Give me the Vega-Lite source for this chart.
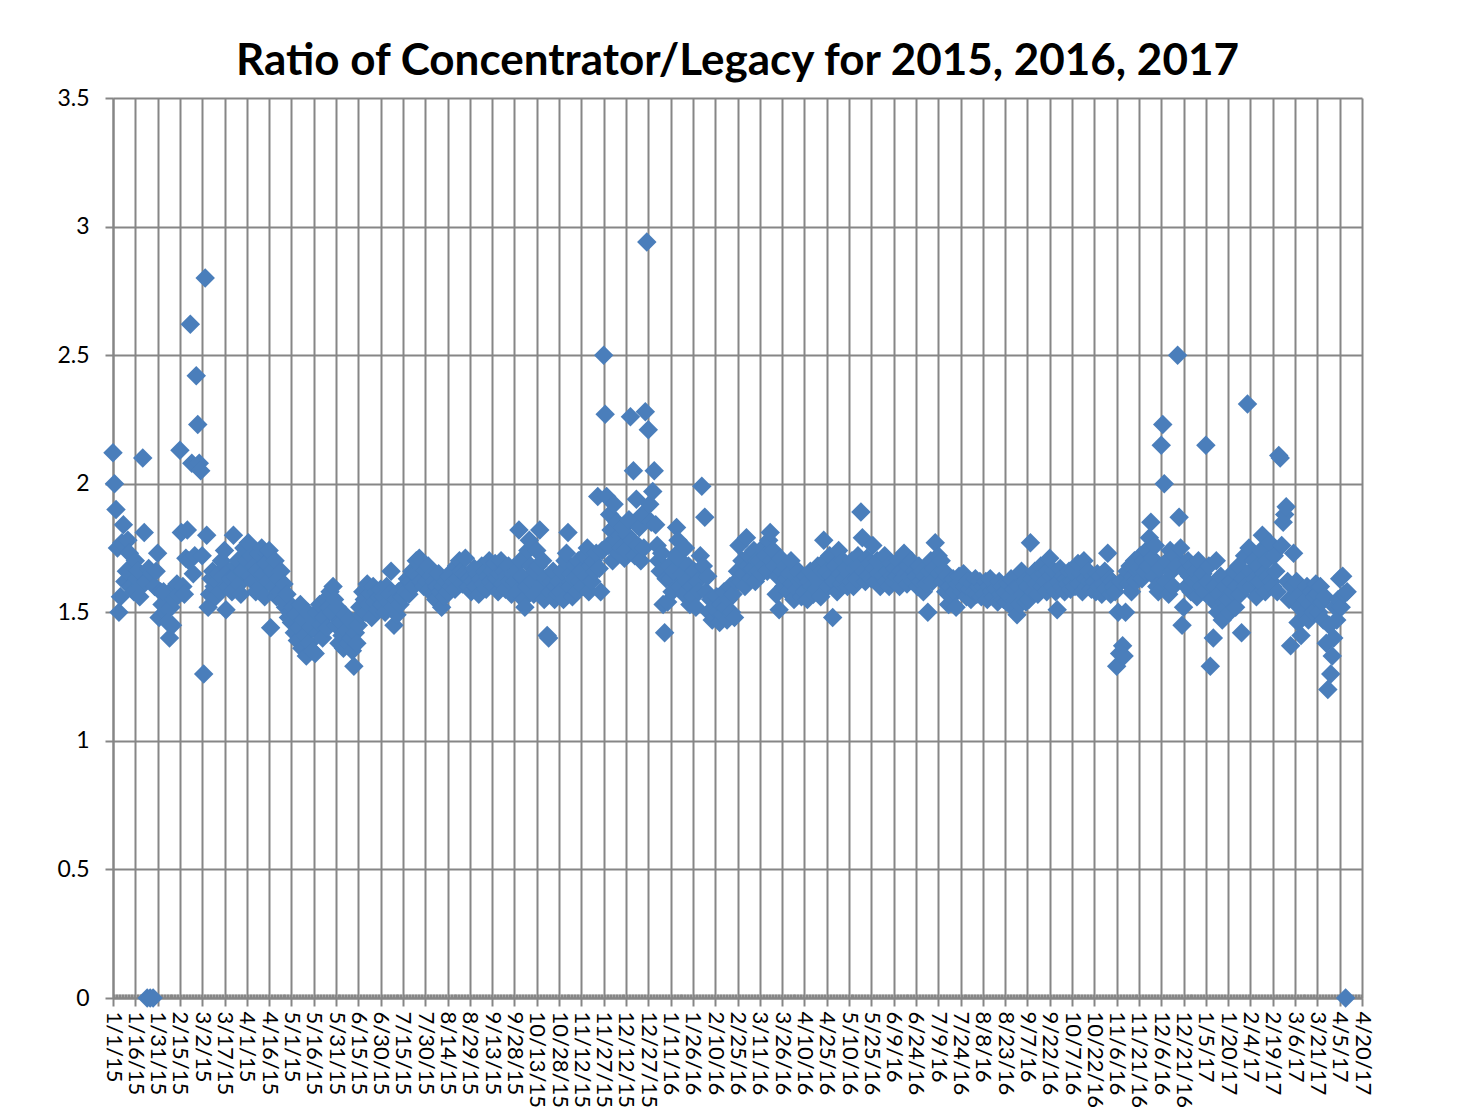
{
"$schema": "https://vega.github.io/schema/vega-lite/v6.json",
"width": 1249, "height": 900,
"autosize": {"type": "none"},
"padding": {"left": 113, "top": 98, "right": 107, "bottom": 119},
"background": "white",
"config": {"view": {"stroke": null}},
"title": {"text": "Ratio of Concentrator/Legacy for 2015, 2016, 2017", "font": "Lato", "fontSize": 44, "fontWeight": "bold", "color": "#000000", "anchor": "middle", "offset": 3},
"data": {"values": [
{"date":"2015-01-01","ratio":2.12},{"date":"2015-01-02","ratio":2.00},{"date":"2015-01-03","ratio":1.90},{"date":"2015-01-04","ratio":1.75},{"date":"2015-01-05","ratio":1.50},{"date":"2015-01-06","ratio":1.56},{"date":"2015-01-07","ratio":1.77},{"date":"2015-01-08","ratio":1.84},{"date":"2015-01-09","ratio":1.62},{"date":"2015-01-10","ratio":1.66},{"date":"2015-01-11","ratio":1.78},{"date":"2015-01-12","ratio":1.73},{"date":"2015-01-13","ratio":1.60},{"date":"2015-01-14","ratio":1.68},{"date":"2015-01-15","ratio":1.58},{"date":"2015-01-16","ratio":1.70},{"date":"2015-01-17","ratio":1.63},{"date":"2015-01-18","ratio":1.66},{"date":"2015-01-19","ratio":1.56},{"date":"2015-01-20","ratio":1.60},{"date":"2015-01-21","ratio":2.10},{"date":"2015-01-22","ratio":1.81},{"date":"2015-01-23","ratio":1.62},{"date":"2015-01-24","ratio":0},{"date":"2015-01-25","ratio":1.67},{"date":"2015-01-26","ratio":0},{"date":"2015-01-27","ratio":1.65},{"date":"2015-01-28","ratio":0},{"date":"2015-01-29","ratio":1.60},{"date":"2015-01-30","ratio":1.66},{"date":"2015-01-31","ratio":1.73},
{"date":"2015-02-01","ratio":1.48},{"date":"2015-02-02","ratio":1.58},{"date":"2015-02-03","ratio":1.53},{"date":"2015-02-04","ratio":1.58},{"date":"2015-02-05","ratio":1.50},{"date":"2015-02-06","ratio":1.52},{"date":"2015-02-07","ratio":1.46},{"date":"2015-02-08","ratio":1.40},{"date":"2015-02-09","ratio":1.52},{"date":"2015-02-10","ratio":1.45},{"date":"2015-02-11","ratio":1.55},{"date":"2015-02-12","ratio":1.60},{"date":"2015-02-13","ratio":1.61},{"date":"2015-02-14","ratio":1.57},{"date":"2015-02-15","ratio":2.13},{"date":"2015-02-16","ratio":1.81},{"date":"2015-02-17","ratio":1.60},{"date":"2015-02-18","ratio":1.57},{"date":"2015-02-19","ratio":1.71},{"date":"2015-02-20","ratio":1.82},{"date":"2015-02-21","ratio":1.70},{"date":"2015-02-22","ratio":2.62},{"date":"2015-02-23","ratio":2.08},{"date":"2015-02-24","ratio":1.65},{"date":"2015-02-25","ratio":1.72},{"date":"2015-02-26","ratio":2.42},{"date":"2015-02-27","ratio":2.23},{"date":"2015-02-28","ratio":2.08},
{"date":"2015-03-01","ratio":2.05},{"date":"2015-03-02","ratio":1.72},{"date":"2015-03-03","ratio":1.26},{"date":"2015-03-04","ratio":2.80},{"date":"2015-03-05","ratio":1.80},{"date":"2015-03-06","ratio":1.52},{"date":"2015-03-07","ratio":1.57},{"date":"2015-03-08","ratio":1.63},{"date":"2015-03-09","ratio":1.66},{"date":"2015-03-10","ratio":1.60},{"date":"2015-03-11","ratio":1.56},{"date":"2015-03-12","ratio":1.62},{"date":"2015-03-13","ratio":1.65},{"date":"2015-03-14","ratio":1.58},{"date":"2015-03-15","ratio":1.70},{"date":"2015-03-16","ratio":1.64},{"date":"2015-03-17","ratio":1.74},{"date":"2015-03-18","ratio":1.51},{"date":"2015-03-19","ratio":1.60},{"date":"2015-03-20","ratio":1.66},{"date":"2015-03-21","ratio":1.63},{"date":"2015-03-22","ratio":1.58},{"date":"2015-03-23","ratio":1.80},{"date":"2015-03-24","ratio":1.64},{"date":"2015-03-25","ratio":1.68},{"date":"2015-03-26","ratio":1.70},{"date":"2015-03-27","ratio":1.61},{"date":"2015-03-28","ratio":1.57},{"date":"2015-03-29","ratio":1.66},{"date":"2015-03-30","ratio":1.75},{"date":"2015-03-31","ratio":1.72},
{"date":"2015-04-01","ratio":1.70},{"date":"2015-04-02","ratio":1.77},{"date":"2015-04-03","ratio":1.64},{"date":"2015-04-04","ratio":1.72},{"date":"2015-04-05","ratio":1.62},{"date":"2015-04-06","ratio":1.68},{"date":"2015-04-07","ratio":1.58},{"date":"2015-04-08","ratio":1.66},{"date":"2015-04-09","ratio":1.73},{"date":"2015-04-10","ratio":1.60},{"date":"2015-04-11","ratio":1.75},{"date":"2015-04-12","ratio":1.65},{"date":"2015-04-13","ratio":1.56},{"date":"2015-04-14","ratio":1.69},{"date":"2015-04-15","ratio":1.62},{"date":"2015-04-16","ratio":1.74},{"date":"2015-04-17","ratio":1.44},{"date":"2015-04-18","ratio":1.66},{"date":"2015-04-19","ratio":1.60},{"date":"2015-04-20","ratio":1.70},{"date":"2015-04-21","ratio":1.56},{"date":"2015-04-22","ratio":1.63},{"date":"2015-04-23","ratio":1.58},{"date":"2015-04-24","ratio":1.66},{"date":"2015-04-25","ratio":1.55},{"date":"2015-04-26","ratio":1.61},{"date":"2015-04-27","ratio":1.52},{"date":"2015-04-28","ratio":1.57},{"date":"2015-04-29","ratio":1.48},{"date":"2015-04-30","ratio":1.50},
{"date":"2015-05-01","ratio":1.46},{"date":"2015-05-02","ratio":1.52},{"date":"2015-05-03","ratio":1.42},{"date":"2015-05-04","ratio":1.49},{"date":"2015-05-05","ratio":1.39},{"date":"2015-05-06","ratio":1.44},{"date":"2015-05-07","ratio":1.53},{"date":"2015-05-08","ratio":1.36},{"date":"2015-05-09","ratio":1.47},{"date":"2015-05-10","ratio":1.41},{"date":"2015-05-11","ratio":1.33},{"date":"2015-05-12","ratio":1.50},{"date":"2015-05-13","ratio":1.38},{"date":"2015-05-14","ratio":1.44},{"date":"2015-05-15","ratio":1.35},{"date":"2015-05-16","ratio":1.47},{"date":"2015-05-17","ratio":1.34},{"date":"2015-05-18","ratio":1.50},{"date":"2015-05-19","ratio":1.42},{"date":"2015-05-20","ratio":1.53},{"date":"2015-05-21","ratio":1.45},{"date":"2015-05-22","ratio":1.40},{"date":"2015-05-23","ratio":1.48},{"date":"2015-05-24","ratio":1.55},{"date":"2015-05-25","ratio":1.44},{"date":"2015-05-26","ratio":1.52},{"date":"2015-05-27","ratio":1.58},{"date":"2015-05-28","ratio":1.50},{"date":"2015-05-29","ratio":1.60},{"date":"2015-05-30","ratio":1.55},{"date":"2015-05-31","ratio":1.45},
{"date":"2015-06-01","ratio":1.52},{"date":"2015-06-02","ratio":1.38},{"date":"2015-06-03","ratio":1.46},{"date":"2015-06-04","ratio":1.41},{"date":"2015-06-05","ratio":1.36},{"date":"2015-06-06","ratio":1.49},{"date":"2015-06-07","ratio":1.43},{"date":"2015-06-08","ratio":1.38},{"date":"2015-06-09","ratio":1.47},{"date":"2015-06-10","ratio":1.40},{"date":"2015-06-11","ratio":1.35},{"date":"2015-06-12","ratio":1.29},{"date":"2015-06-13","ratio":1.42},{"date":"2015-06-14","ratio":1.38},{"date":"2015-06-15","ratio":1.45},{"date":"2015-06-16","ratio":1.52},{"date":"2015-06-17","ratio":1.49},{"date":"2015-06-18","ratio":1.58},{"date":"2015-06-19","ratio":1.55},{"date":"2015-06-20","ratio":1.50},{"date":"2015-06-21","ratio":1.61},{"date":"2015-06-22","ratio":1.53},{"date":"2015-06-23","ratio":1.57},{"date":"2015-06-24","ratio":1.48},{"date":"2015-06-25","ratio":1.60},{"date":"2015-06-26","ratio":1.54},{"date":"2015-06-27","ratio":1.58},{"date":"2015-06-28","ratio":1.51},{"date":"2015-06-29","ratio":1.56},{"date":"2015-06-30","ratio":1.59},
{"date":"2015-07-01","ratio":1.53},{"date":"2015-07-02","ratio":1.56},{"date":"2015-07-03","ratio":1.50},{"date":"2015-07-04","ratio":1.60},{"date":"2015-07-05","ratio":1.54},{"date":"2015-07-06","ratio":1.57},{"date":"2015-07-07","ratio":1.66},{"date":"2015-07-08","ratio":1.52},{"date":"2015-07-09","ratio":1.45},{"date":"2015-07-10","ratio":1.55},{"date":"2015-07-11","ratio":1.49},{"date":"2015-07-12","ratio":1.58},{"date":"2015-07-13","ratio":1.53},{"date":"2015-07-14","ratio":1.56},{"date":"2015-07-15","ratio":1.56},{"date":"2015-07-16","ratio":1.60},{"date":"2015-07-17","ratio":1.58},{"date":"2015-07-18","ratio":1.63},{"date":"2015-07-19","ratio":1.57},{"date":"2015-07-20","ratio":1.62},{"date":"2015-07-21","ratio":1.66},{"date":"2015-07-22","ratio":1.60},{"date":"2015-07-23","ratio":1.65},{"date":"2015-07-24","ratio":1.70},{"date":"2015-07-25","ratio":1.64},{"date":"2015-07-26","ratio":1.71},{"date":"2015-07-27","ratio":1.62},{"date":"2015-07-28","ratio":1.67},{"date":"2015-07-29","ratio":1.60},{"date":"2015-07-30","ratio":1.66},{"date":"2015-07-31","ratio":1.62},
{"date":"2015-08-01","ratio":1.68},{"date":"2015-08-02","ratio":1.59},{"date":"2015-08-03","ratio":1.64},{"date":"2015-08-04","ratio":1.57},{"date":"2015-08-05","ratio":1.62},{"date":"2015-08-06","ratio":1.55},{"date":"2015-08-07","ratio":1.60},{"date":"2015-08-08","ratio":1.65},{"date":"2015-08-09","ratio":1.58},{"date":"2015-08-10","ratio":1.52},{"date":"2015-08-11","ratio":1.60},{"date":"2015-08-12","ratio":1.56},{"date":"2015-08-13","ratio":1.62},{"date":"2015-08-14","ratio":1.58},{"date":"2015-08-15","ratio":1.64},{"date":"2015-08-16","ratio":1.60},{"date":"2015-08-17","ratio":1.66},{"date":"2015-08-18","ratio":1.62},{"date":"2015-08-19","ratio":1.59},{"date":"2015-08-20","ratio":1.68},{"date":"2015-08-21","ratio":1.63},{"date":"2015-08-22","ratio":1.70},{"date":"2015-08-23","ratio":1.66},{"date":"2015-08-24","ratio":1.61},{"date":"2015-08-25","ratio":1.65},{"date":"2015-08-26","ratio":1.71},{"date":"2015-08-27","ratio":1.64},{"date":"2015-08-28","ratio":1.60},{"date":"2015-08-29","ratio":1.63},{"date":"2015-08-30","ratio":1.58},{"date":"2015-08-31","ratio":1.62},
{"date":"2015-09-01","ratio":1.67},{"date":"2015-09-02","ratio":1.60},{"date":"2015-09-03","ratio":1.65},{"date":"2015-09-04","ratio":1.57},{"date":"2015-09-05","ratio":1.63},{"date":"2015-09-06","ratio":1.68},{"date":"2015-09-07","ratio":1.61},{"date":"2015-09-08","ratio":1.66},{"date":"2015-09-09","ratio":1.59},{"date":"2015-09-10","ratio":1.64},{"date":"2015-09-11","ratio":1.70},{"date":"2015-09-12","ratio":1.62},{"date":"2015-09-13","ratio":1.66},{"date":"2015-09-14","ratio":1.60},{"date":"2015-09-15","ratio":1.69},{"date":"2015-09-16","ratio":1.63},{"date":"2015-09-17","ratio":1.58},{"date":"2015-09-18","ratio":1.65},{"date":"2015-09-19","ratio":1.70},{"date":"2015-09-20","ratio":1.61},{"date":"2015-09-21","ratio":1.66},{"date":"2015-09-22","ratio":1.59},{"date":"2015-09-23","ratio":1.64},{"date":"2015-09-24","ratio":1.68},{"date":"2015-09-25","ratio":1.62},{"date":"2015-09-26","ratio":1.57},{"date":"2015-09-27","ratio":1.65},{"date":"2015-09-28","ratio":1.62},{"date":"2015-09-29","ratio":1.66},{"date":"2015-09-30","ratio":1.58},
{"date":"2015-10-01","ratio":1.82},{"date":"2015-10-02","ratio":1.70},{"date":"2015-10-03","ratio":1.64},{"date":"2015-10-04","ratio":1.55},{"date":"2015-10-05","ratio":1.52},{"date":"2015-10-06","ratio":1.60},{"date":"2015-10-07","ratio":1.74},{"date":"2015-10-08","ratio":1.78},{"date":"2015-10-09","ratio":1.68},{"date":"2015-10-10","ratio":1.62},{"date":"2015-10-11","ratio":1.57},{"date":"2015-10-12","ratio":1.66},{"date":"2015-10-13","ratio":1.74},{"date":"2015-10-14","ratio":1.68},{"date":"2015-10-15","ratio":1.82},{"date":"2015-10-16","ratio":1.60},{"date":"2015-10-17","ratio":1.70},{"date":"2015-10-18","ratio":1.55},{"date":"2015-10-19","ratio":1.63},{"date":"2015-10-20","ratio":1.41},{"date":"2015-10-21","ratio":1.40},{"date":"2015-10-22","ratio":1.58},{"date":"2015-10-23","ratio":1.62},{"date":"2015-10-24","ratio":1.66},{"date":"2015-10-25","ratio":1.55},{"date":"2015-10-26","ratio":1.60},{"date":"2015-10-27","ratio":1.57},{"date":"2015-10-28","ratio":1.62},{"date":"2015-10-29","ratio":1.58},{"date":"2015-10-30","ratio":1.66},{"date":"2015-10-31","ratio":1.55},
{"date":"2015-11-01","ratio":1.70},{"date":"2015-11-02","ratio":1.73},{"date":"2015-11-03","ratio":1.81},{"date":"2015-11-04","ratio":1.60},{"date":"2015-11-05","ratio":1.65},{"date":"2015-11-06","ratio":1.56},{"date":"2015-11-07","ratio":1.63},{"date":"2015-11-08","ratio":1.68},{"date":"2015-11-09","ratio":1.58},{"date":"2015-11-10","ratio":1.70},{"date":"2015-11-11","ratio":1.62},{"date":"2015-11-12","ratio":1.66},{"date":"2015-11-13","ratio":1.60},{"date":"2015-11-14","ratio":1.72},{"date":"2015-11-15","ratio":1.64},{"date":"2015-11-16","ratio":1.75},{"date":"2015-11-17","ratio":1.58},{"date":"2015-11-18","ratio":1.68},{"date":"2015-11-19","ratio":1.62},{"date":"2015-11-20","ratio":1.70},{"date":"2015-11-21","ratio":1.66},{"date":"2015-11-22","ratio":1.73},{"date":"2015-11-23","ratio":1.95},{"date":"2015-11-24","ratio":1.67},{"date":"2015-11-25","ratio":1.58},{"date":"2015-11-26","ratio":1.74},{"date":"2015-11-27","ratio":2.50},{"date":"2015-11-28","ratio":2.27},{"date":"2015-11-29","ratio":1.95},{"date":"2015-11-30","ratio":1.76},
{"date":"2015-12-01","ratio":1.88},{"date":"2015-12-02","ratio":1.82},{"date":"2015-12-03","ratio":1.70},{"date":"2015-12-04","ratio":1.92},{"date":"2015-12-05","ratio":1.78},{"date":"2015-12-06","ratio":1.85},{"date":"2015-12-07","ratio":1.73},{"date":"2015-12-08","ratio":1.80},{"date":"2015-12-09","ratio":1.75},{"date":"2015-12-10","ratio":1.83},{"date":"2015-12-11","ratio":1.71},{"date":"2015-12-12","ratio":1.74},{"date":"2015-12-13","ratio":1.80},{"date":"2015-12-14","ratio":1.86},{"date":"2015-12-15","ratio":2.26},{"date":"2015-12-16","ratio":1.78},{"date":"2015-12-17","ratio":2.05},{"date":"2015-12-18","ratio":1.72},{"date":"2015-12-19","ratio":1.94},{"date":"2015-12-20","ratio":1.76},{"date":"2015-12-21","ratio":1.83},{"date":"2015-12-22","ratio":1.70},{"date":"2015-12-23","ratio":1.88},{"date":"2015-12-24","ratio":1.75},{"date":"2015-12-25","ratio":2.28},{"date":"2015-12-26","ratio":2.94},{"date":"2015-12-27","ratio":2.21},{"date":"2015-12-28","ratio":1.92},{"date":"2015-12-29","ratio":1.85},{"date":"2015-12-30","ratio":1.97},{"date":"2015-12-31","ratio":2.05},
{"date":"2016-01-01","ratio":1.84},{"date":"2016-01-02","ratio":1.76},{"date":"2016-01-03","ratio":1.70},{"date":"2016-01-04","ratio":1.66},{"date":"2016-01-05","ratio":1.73},{"date":"2016-01-06","ratio":1.53},{"date":"2016-01-07","ratio":1.42},{"date":"2016-01-08","ratio":1.63},{"date":"2016-01-09","ratio":1.54},{"date":"2016-01-10","ratio":1.68},{"date":"2016-01-11","ratio":1.63},{"date":"2016-01-12","ratio":1.58},{"date":"2016-01-13","ratio":1.66},{"date":"2016-01-14","ratio":1.72},{"date":"2016-01-15","ratio":1.83},{"date":"2016-01-16","ratio":1.78},{"date":"2016-01-17","ratio":1.60},{"date":"2016-01-18","ratio":1.70},{"date":"2016-01-19","ratio":1.65},{"date":"2016-01-20","ratio":1.57},{"date":"2016-01-21","ratio":1.75},{"date":"2016-01-22","ratio":1.62},{"date":"2016-01-23","ratio":1.68},{"date":"2016-01-24","ratio":1.53},{"date":"2016-01-25","ratio":1.60},{"date":"2016-01-26","ratio":1.56},{"date":"2016-01-27","ratio":1.66},{"date":"2016-01-28","ratio":1.52},{"date":"2016-01-29","ratio":1.62},{"date":"2016-01-30","ratio":1.58},{"date":"2016-01-31","ratio":1.72},
{"date":"2016-02-01","ratio":1.99},{"date":"2016-02-02","ratio":1.68},{"date":"2016-02-03","ratio":1.87},{"date":"2016-02-04","ratio":1.58},{"date":"2016-02-05","ratio":1.64},{"date":"2016-02-06","ratio":1.50},{"date":"2016-02-07","ratio":1.55},{"date":"2016-02-08","ratio":1.47},{"date":"2016-02-09","ratio":1.52},{"date":"2016-02-10","ratio":1.48},{"date":"2016-02-11","ratio":1.56},{"date":"2016-02-12","ratio":1.50},{"date":"2016-02-13","ratio":1.46},{"date":"2016-02-14","ratio":1.53},{"date":"2016-02-15","ratio":1.49},{"date":"2016-02-16","ratio":1.58},{"date":"2016-02-17","ratio":1.52},{"date":"2016-02-18","ratio":1.47},{"date":"2016-02-19","ratio":1.55},{"date":"2016-02-20","ratio":1.60},{"date":"2016-02-21","ratio":1.50},{"date":"2016-02-22","ratio":1.57},{"date":"2016-02-23","ratio":1.48},{"date":"2016-02-24","ratio":1.62},{"date":"2016-02-25","ratio":1.66},{"date":"2016-02-26","ratio":1.76},{"date":"2016-02-27","ratio":1.62},{"date":"2016-02-28","ratio":1.70},{"date":"2016-02-29","ratio":1.65},
{"date":"2016-03-01","ratio":1.60},{"date":"2016-03-02","ratio":1.79},{"date":"2016-03-03","ratio":1.68},{"date":"2016-03-04","ratio":1.72},{"date":"2016-03-05","ratio":1.63},{"date":"2016-03-06","ratio":1.67},{"date":"2016-03-07","ratio":1.74},{"date":"2016-03-08","ratio":1.62},{"date":"2016-03-09","ratio":1.70},{"date":"2016-03-10","ratio":1.66},{"date":"2016-03-11","ratio":1.70},{"date":"2016-03-12","ratio":1.65},{"date":"2016-03-13","ratio":1.75},{"date":"2016-03-14","ratio":1.68},{"date":"2016-03-15","ratio":1.72},{"date":"2016-03-16","ratio":1.66},{"date":"2016-03-17","ratio":1.78},{"date":"2016-03-18","ratio":1.81},{"date":"2016-03-19","ratio":1.70},{"date":"2016-03-20","ratio":1.74},{"date":"2016-03-21","ratio":1.68},{"date":"2016-03-22","ratio":1.57},{"date":"2016-03-23","ratio":1.64},{"date":"2016-03-24","ratio":1.51},{"date":"2016-03-25","ratio":1.71},{"date":"2016-03-26","ratio":1.66},{"date":"2016-03-27","ratio":1.60},{"date":"2016-03-28","ratio":1.68},{"date":"2016-03-29","ratio":1.63},{"date":"2016-03-30","ratio":1.58},{"date":"2016-03-31","ratio":1.65},
{"date":"2016-04-01","ratio":1.70},{"date":"2016-04-02","ratio":1.61},{"date":"2016-04-03","ratio":1.55},{"date":"2016-04-04","ratio":1.64},{"date":"2016-04-05","ratio":1.59},{"date":"2016-04-06","ratio":1.66},{"date":"2016-04-07","ratio":1.62},{"date":"2016-04-08","ratio":1.56},{"date":"2016-04-09","ratio":1.63},{"date":"2016-04-10","ratio":1.58},{"date":"2016-04-11","ratio":1.64},{"date":"2016-04-12","ratio":1.55},{"date":"2016-04-13","ratio":1.62},{"date":"2016-04-14","ratio":1.66},{"date":"2016-04-15","ratio":1.60},{"date":"2016-04-16","ratio":1.57},{"date":"2016-04-17","ratio":1.64},{"date":"2016-04-18","ratio":1.59},{"date":"2016-04-19","ratio":1.68},{"date":"2016-04-20","ratio":1.62},{"date":"2016-04-21","ratio":1.56},{"date":"2016-04-22","ratio":1.66},{"date":"2016-04-23","ratio":1.78},{"date":"2016-04-24","ratio":1.70},{"date":"2016-04-25","ratio":1.66},{"date":"2016-04-26","ratio":1.60},{"date":"2016-04-27","ratio":1.72},{"date":"2016-04-28","ratio":1.64},{"date":"2016-04-29","ratio":1.48},{"date":"2016-04-30","ratio":1.62},
{"date":"2016-05-01","ratio":1.68},{"date":"2016-05-02","ratio":1.58},{"date":"2016-05-03","ratio":1.74},{"date":"2016-05-04","ratio":1.65},{"date":"2016-05-05","ratio":1.61},{"date":"2016-05-06","ratio":1.70},{"date":"2016-05-07","ratio":1.63},{"date":"2016-05-08","ratio":1.67},{"date":"2016-05-09","ratio":1.60},{"date":"2016-05-10","ratio":1.65},{"date":"2016-05-11","ratio":1.62},{"date":"2016-05-12","ratio":1.70},{"date":"2016-05-13","ratio":1.60},{"date":"2016-05-14","ratio":1.67},{"date":"2016-05-15","ratio":1.63},{"date":"2016-05-16","ratio":1.72},{"date":"2016-05-17","ratio":1.68},{"date":"2016-05-18","ratio":1.89},{"date":"2016-05-19","ratio":1.79},{"date":"2016-05-20","ratio":1.66},{"date":"2016-05-21","ratio":1.62},{"date":"2016-05-22","ratio":1.71},{"date":"2016-05-23","ratio":1.64},{"date":"2016-05-24","ratio":1.69},{"date":"2016-05-25","ratio":1.63},{"date":"2016-05-26","ratio":1.76},{"date":"2016-05-27","ratio":1.67},{"date":"2016-05-28","ratio":1.62},{"date":"2016-05-29","ratio":1.70},{"date":"2016-05-30","ratio":1.65},{"date":"2016-05-31","ratio":1.60},
{"date":"2016-06-01","ratio":1.68},{"date":"2016-06-02","ratio":1.64},{"date":"2016-06-03","ratio":1.72},{"date":"2016-06-04","ratio":1.62},{"date":"2016-06-05","ratio":1.66},{"date":"2016-06-06","ratio":1.60},{"date":"2016-06-07","ratio":1.69},{"date":"2016-06-08","ratio":1.64},{"date":"2016-06-09","ratio":1.62},{"date":"2016-06-10","ratio":1.67},{"date":"2016-06-11","ratio":1.64},{"date":"2016-06-12","ratio":1.70},{"date":"2016-06-13","ratio":1.60},{"date":"2016-06-14","ratio":1.66},{"date":"2016-06-15","ratio":1.63},{"date":"2016-06-16","ratio":1.73},{"date":"2016-06-17","ratio":1.65},{"date":"2016-06-18","ratio":1.61},{"date":"2016-06-19","ratio":1.68},{"date":"2016-06-20","ratio":1.64},{"date":"2016-06-21","ratio":1.70},{"date":"2016-06-22","ratio":1.62},{"date":"2016-06-23","ratio":1.66},{"date":"2016-06-24","ratio":1.64},{"date":"2016-06-25","ratio":1.60},{"date":"2016-06-26","ratio":1.68},{"date":"2016-06-27","ratio":1.62},{"date":"2016-06-28","ratio":1.66},{"date":"2016-06-29","ratio":1.58},{"date":"2016-06-30","ratio":1.64},
{"date":"2016-07-01","ratio":1.61},{"date":"2016-07-02","ratio":1.50},{"date":"2016-07-03","ratio":1.66},{"date":"2016-07-04","ratio":1.70},{"date":"2016-07-05","ratio":1.62},{"date":"2016-07-06","ratio":1.67},{"date":"2016-07-07","ratio":1.77},{"date":"2016-07-08","ratio":1.68},{"date":"2016-07-09","ratio":1.72},{"date":"2016-07-10","ratio":1.65},{"date":"2016-07-11","ratio":1.70},{"date":"2016-07-12","ratio":1.62},{"date":"2016-07-13","ratio":1.66},{"date":"2016-07-14","ratio":1.58},{"date":"2016-07-15","ratio":1.64},{"date":"2016-07-16","ratio":1.53},{"date":"2016-07-17","ratio":1.60},{"date":"2016-07-18","ratio":1.56},{"date":"2016-07-19","ratio":1.63},{"date":"2016-07-20","ratio":1.58},{"date":"2016-07-21","ratio":1.52},{"date":"2016-07-22","ratio":1.61},{"date":"2016-07-23","ratio":1.64},{"date":"2016-07-24","ratio":1.62},{"date":"2016-07-25","ratio":1.58},{"date":"2016-07-26","ratio":1.65},{"date":"2016-07-27","ratio":1.60},{"date":"2016-07-28","ratio":1.56},{"date":"2016-07-29","ratio":1.62},{"date":"2016-07-30","ratio":1.59},{"date":"2016-07-31","ratio":1.55},
{"date":"2016-08-01","ratio":1.61},{"date":"2016-08-02","ratio":1.58},{"date":"2016-08-03","ratio":1.63},{"date":"2016-08-04","ratio":1.57},{"date":"2016-08-05","ratio":1.60},{"date":"2016-08-06","ratio":1.62},{"date":"2016-08-07","ratio":1.56},{"date":"2016-08-08","ratio":1.60},{"date":"2016-08-09","ratio":1.57},{"date":"2016-08-10","ratio":1.62},{"date":"2016-08-11","ratio":1.55},{"date":"2016-08-12","ratio":1.60},{"date":"2016-08-13","ratio":1.63},{"date":"2016-08-14","ratio":1.58},{"date":"2016-08-15","ratio":1.56},{"date":"2016-08-16","ratio":1.61},{"date":"2016-08-17","ratio":1.59},{"date":"2016-08-18","ratio":1.54},{"date":"2016-08-19","ratio":1.62},{"date":"2016-08-20","ratio":1.57},{"date":"2016-08-21","ratio":1.60},{"date":"2016-08-22","ratio":1.55},{"date":"2016-08-23","ratio":1.58},{"date":"2016-08-24","ratio":1.54},{"date":"2016-08-25","ratio":1.61},{"date":"2016-08-26","ratio":1.56},{"date":"2016-08-27","ratio":1.63},{"date":"2016-08-28","ratio":1.52},{"date":"2016-08-29","ratio":1.59},{"date":"2016-08-30","ratio":1.55},{"date":"2016-08-31","ratio":1.49},
{"date":"2016-09-01","ratio":1.60},{"date":"2016-09-02","ratio":1.53},{"date":"2016-09-03","ratio":1.66},{"date":"2016-09-04","ratio":1.57},{"date":"2016-09-05","ratio":1.62},{"date":"2016-09-06","ratio":1.54},{"date":"2016-09-07","ratio":1.60},{"date":"2016-09-08","ratio":1.55},{"date":"2016-09-09","ratio":1.77},{"date":"2016-09-10","ratio":1.63},{"date":"2016-09-11","ratio":1.58},{"date":"2016-09-12","ratio":1.66},{"date":"2016-09-13","ratio":1.61},{"date":"2016-09-14","ratio":1.57},{"date":"2016-09-15","ratio":1.64},{"date":"2016-09-16","ratio":1.68},{"date":"2016-09-17","ratio":1.60},{"date":"2016-09-18","ratio":1.65},{"date":"2016-09-19","ratio":1.62},{"date":"2016-09-20","ratio":1.58},{"date":"2016-09-21","ratio":1.66},{"date":"2016-09-22","ratio":1.71},{"date":"2016-09-23","ratio":1.64},{"date":"2016-09-24","ratio":1.60},{"date":"2016-09-25","ratio":1.66},{"date":"2016-09-26","ratio":1.58},{"date":"2016-09-27","ratio":1.51},{"date":"2016-09-28","ratio":1.62},{"date":"2016-09-29","ratio":1.67},{"date":"2016-09-30","ratio":1.60},
{"date":"2016-10-01","ratio":1.64},{"date":"2016-10-02","ratio":1.58},{"date":"2016-10-03","ratio":1.63},{"date":"2016-10-04","ratio":1.61},{"date":"2016-10-05","ratio":1.66},{"date":"2016-10-06","ratio":1.59},{"date":"2016-10-07","ratio":1.62},{"date":"2016-10-08","ratio":1.66},{"date":"2016-10-09","ratio":1.60},{"date":"2016-10-10","ratio":1.64},{"date":"2016-10-11","ratio":1.69},{"date":"2016-10-12","ratio":1.61},{"date":"2016-10-13","ratio":1.65},{"date":"2016-10-14","ratio":1.58},{"date":"2016-10-15","ratio":1.70},{"date":"2016-10-16","ratio":1.63},{"date":"2016-10-17","ratio":1.60},{"date":"2016-10-18","ratio":1.66},{"date":"2016-10-19","ratio":1.62},{"date":"2016-10-20","ratio":1.59},{"date":"2016-10-21","ratio":1.64},{"date":"2016-10-22","ratio":1.62},{"date":"2016-10-23","ratio":1.58},{"date":"2016-10-24","ratio":1.65},{"date":"2016-10-25","ratio":1.60},{"date":"2016-10-26","ratio":1.64},{"date":"2016-10-27","ratio":1.57},{"date":"2016-10-28","ratio":1.61},{"date":"2016-10-29","ratio":1.66},{"date":"2016-10-30","ratio":1.59},{"date":"2016-10-31","ratio":1.73},
{"date":"2016-11-01","ratio":1.63},{"date":"2016-11-02","ratio":1.57},{"date":"2016-11-03","ratio":1.62},{"date":"2016-11-04","ratio":1.60},{"date":"2016-11-05","ratio":1.58},{"date":"2016-11-06","ratio":1.29},{"date":"2016-11-07","ratio":1.50},{"date":"2016-11-08","ratio":1.34},{"date":"2016-11-09","ratio":1.62},{"date":"2016-11-10","ratio":1.37},{"date":"2016-11-11","ratio":1.33},{"date":"2016-11-12","ratio":1.50},{"date":"2016-11-13","ratio":1.66},{"date":"2016-11-14","ratio":1.61},{"date":"2016-11-15","ratio":1.68},{"date":"2016-11-16","ratio":1.58},{"date":"2016-11-17","ratio":1.64},{"date":"2016-11-18","ratio":1.70},{"date":"2016-11-19","ratio":1.62},{"date":"2016-11-20","ratio":1.66},{"date":"2016-11-21","ratio":1.67},{"date":"2016-11-22","ratio":1.72},{"date":"2016-11-23","ratio":1.63},{"date":"2016-11-24","ratio":1.70},{"date":"2016-11-25","ratio":1.66},{"date":"2016-11-26","ratio":1.74},{"date":"2016-11-27","ratio":1.68},{"date":"2016-11-28","ratio":1.79},{"date":"2016-11-29","ratio":1.85},{"date":"2016-11-30","ratio":1.71},
{"date":"2016-12-01","ratio":1.64},{"date":"2016-12-02","ratio":1.76},{"date":"2016-12-03","ratio":1.60},{"date":"2016-12-04","ratio":1.58},{"date":"2016-12-05","ratio":1.67},{"date":"2016-12-06","ratio":2.15},{"date":"2016-12-07","ratio":2.23},{"date":"2016-12-08","ratio":2.00},{"date":"2016-12-09","ratio":1.62},{"date":"2016-12-10","ratio":1.70},{"date":"2016-12-11","ratio":1.57},{"date":"2016-12-12","ratio":1.74},{"date":"2016-12-13","ratio":1.66},{"date":"2016-12-14","ratio":1.60},{"date":"2016-12-15","ratio":1.72},{"date":"2016-12-16","ratio":1.68},{"date":"2016-12-17","ratio":2.50},{"date":"2016-12-18","ratio":1.87},{"date":"2016-12-19","ratio":1.75},{"date":"2016-12-20","ratio":1.45},{"date":"2016-12-21","ratio":1.52},{"date":"2016-12-22","ratio":1.66},{"date":"2016-12-23","ratio":1.60},{"date":"2016-12-24","ratio":1.70},{"date":"2016-12-25","ratio":1.64},{"date":"2016-12-26","ratio":1.58},{"date":"2016-12-27","ratio":1.68},{"date":"2016-12-28","ratio":1.62},{"date":"2016-12-29","ratio":1.66},{"date":"2016-12-30","ratio":1.56},{"date":"2016-12-31","ratio":1.70},
{"date":"2017-01-01","ratio":1.63},{"date":"2017-01-02","ratio":1.60},{"date":"2017-01-03","ratio":1.65},{"date":"2017-01-04","ratio":1.58},{"date":"2017-01-05","ratio":2.15},{"date":"2017-01-06","ratio":1.62},{"date":"2017-01-07","ratio":1.68},{"date":"2017-01-08","ratio":1.29},{"date":"2017-01-09","ratio":1.55},{"date":"2017-01-10","ratio":1.40},{"date":"2017-01-11","ratio":1.60},{"date":"2017-01-12","ratio":1.70},{"date":"2017-01-13","ratio":1.50},{"date":"2017-01-14","ratio":1.57},{"date":"2017-01-15","ratio":1.64},{"date":"2017-01-16","ratio":1.47},{"date":"2017-01-17","ratio":1.54},{"date":"2017-01-18","ratio":1.60},{"date":"2017-01-19","ratio":1.52},{"date":"2017-01-20","ratio":1.55},{"date":"2017-01-21","ratio":1.50},{"date":"2017-01-22","ratio":1.62},{"date":"2017-01-23","ratio":1.58},{"date":"2017-01-24","ratio":1.66},{"date":"2017-01-25","ratio":1.52},{"date":"2017-01-26","ratio":1.60},{"date":"2017-01-27","ratio":1.68},{"date":"2017-01-28","ratio":1.57},{"date":"2017-01-29","ratio":1.42},{"date":"2017-01-30","ratio":1.63},{"date":"2017-01-31","ratio":1.72},
{"date":"2017-02-01","ratio":1.60},{"date":"2017-02-02","ratio":2.31},{"date":"2017-02-03","ratio":1.75},{"date":"2017-02-04","ratio":1.66},{"date":"2017-02-05","ratio":1.60},{"date":"2017-02-06","ratio":1.70},{"date":"2017-02-07","ratio":1.63},{"date":"2017-02-08","ratio":1.56},{"date":"2017-02-09","ratio":1.68},{"date":"2017-02-10","ratio":1.62},{"date":"2017-02-11","ratio":1.74},{"date":"2017-02-12","ratio":1.80},{"date":"2017-02-13","ratio":1.65},{"date":"2017-02-14","ratio":1.58},{"date":"2017-02-15","ratio":1.70},{"date":"2017-02-16","ratio":1.64},{"date":"2017-02-17","ratio":1.77},{"date":"2017-02-18","ratio":1.62},{"date":"2017-02-19","ratio":1.60},{"date":"2017-02-20","ratio":1.72},{"date":"2017-02-21","ratio":1.66},{"date":"2017-02-22","ratio":1.58},{"date":"2017-02-23","ratio":2.11},{"date":"2017-02-24","ratio":2.10},{"date":"2017-02-25","ratio":1.76},{"date":"2017-02-26","ratio":1.85},{"date":"2017-02-27","ratio":1.88},{"date":"2017-02-28","ratio":1.91},
{"date":"2017-03-01","ratio":1.62},{"date":"2017-03-02","ratio":1.55},{"date":"2017-03-03","ratio":1.37},{"date":"2017-03-04","ratio":1.60},{"date":"2017-03-05","ratio":1.73},{"date":"2017-03-06","ratio":1.55},{"date":"2017-03-07","ratio":1.62},{"date":"2017-03-08","ratio":1.46},{"date":"2017-03-09","ratio":1.52},{"date":"2017-03-10","ratio":1.41},{"date":"2017-03-11","ratio":1.58},{"date":"2017-03-12","ratio":1.50},{"date":"2017-03-13","ratio":1.55},{"date":"2017-03-14","ratio":1.60},{"date":"2017-03-15","ratio":1.47},{"date":"2017-03-16","ratio":1.53},{"date":"2017-03-17","ratio":1.58},{"date":"2017-03-18","ratio":1.50},{"date":"2017-03-19","ratio":1.56},{"date":"2017-03-20","ratio":1.61},{"date":"2017-03-21","ratio":1.57},{"date":"2017-03-22","ratio":1.50},{"date":"2017-03-23","ratio":1.60},{"date":"2017-03-24","ratio":1.54},{"date":"2017-03-25","ratio":1.47},{"date":"2017-03-26","ratio":1.56},{"date":"2017-03-27","ratio":1.38},{"date":"2017-03-28","ratio":1.20},{"date":"2017-03-29","ratio":1.45},{"date":"2017-03-30","ratio":1.26},{"date":"2017-03-31","ratio":1.33},
{"date":"2017-04-01","ratio":1.40},{"date":"2017-04-02","ratio":1.52},{"date":"2017-04-03","ratio":1.47},{"date":"2017-04-04","ratio":1.55},{"date":"2017-04-05","ratio":1.63},{"date":"2017-04-06","ratio":1.52},{"date":"2017-04-07","ratio":1.64},{"date":"2017-04-08","ratio":1.57},{"date":"2017-04-09","ratio":0},{"date":"2017-04-10","ratio":1.58}
]},
"mark": {"type": "point", "shape": "diamond", "filled": true, "size": 380, "color": "#4a7ebb", "opacity": 1},
"encoding": {
"x": {"field": "date", "type": "temporal",
 "scale": {"type": "utc", "domain": [{"year": 2015, "month": 1, "date": 1, "utc": true}, {"year": 2017, "month": 4, "date": 20, "utc": true}], "nice": false},
 "axis": {"title": null, "tickCount": {"interval": "day", "step": 1},
  "labelExpr": "(datum.value - 1420070400000) % 1296000000 === 0 ? utcFormat(datum.value, '%-m/%-d/%y') : ''",
  "labelAngle": 90, "labelFont": "Lato", "labelFontSize": 22, "labelColor": "#000000",
  "labelOverlap": false, "labelBound": false, "labelFlush": false, "labelPadding": 5,
  "domainColor": "#868686", "domainWidth": 2,
  "tickColor": "#868686", "tickWidth": 2,
  "tickSize": {"condition": {"test": "(datum.value - 1420070400000) % 1296000000 === 0", "value": 8}, "value": -4},
  "grid": true, "gridColor": "#868686", "gridWidth": 2,
  "gridOpacity": {"condition": {"test": "(datum.value - 1420070400000) % 1296000000 === 0", "value": 1}, "value": 0}}},
"y": {"field": "ratio", "type": "quantitative",
 "scale": {"domain": [0, 3.5], "nice": false, "zero": true},
 "axis": {"title": null, "values": [0, 0.5, 1, 1.5, 2, 2.5, 3, 3.5], "format": "~g",
  "labelFont": "Lato", "labelFontSize": 23, "labelColor": "#000000", "labelPadding": 16,
  "tickSize": 8, "tickColor": "#868686", "tickWidth": 2,
  "domainColor": "#868686", "domainWidth": 2,
  "grid": true, "gridColor": "#868686", "gridWidth": 2}}
}
}
